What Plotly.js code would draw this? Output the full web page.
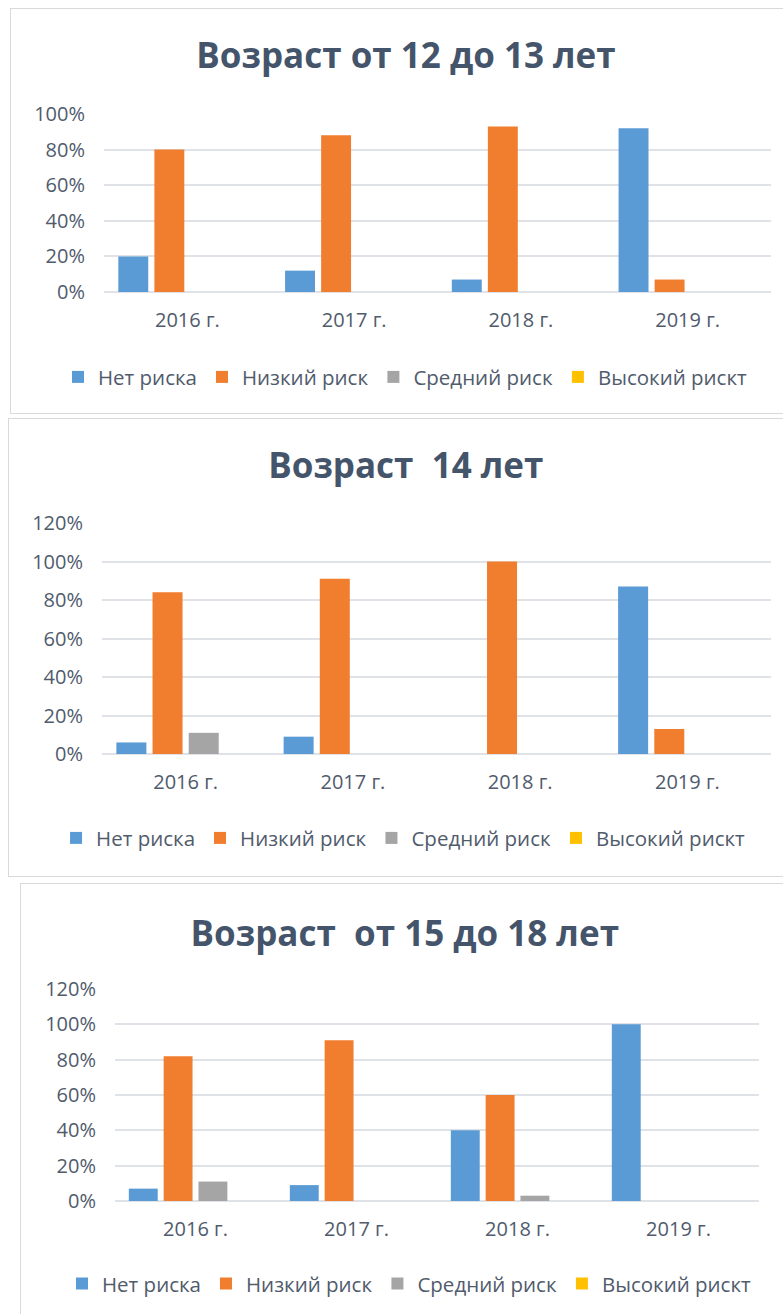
<!DOCTYPE html>
<html>
<head>
<meta charset="utf-8">
<script src="https://cdn.plot.ly/plotly-3.0.1.min.js"></script>
<style>
  html, body { margin: 0; padding: 0; background: #ffffff; width: 783px; height: 1314px; overflow: hidden; }
  .frame { position: absolute; border: 1.5px solid #d9d9d9; box-sizing: border-box; background: #fff; }
  #c1 { left: 10px; top: 8px; width: 790px; height: 406px; }
  #c2 { left: 8px; top: 418px; width: 790px; height: 459px; }
  #c3 { left: 20px; top: 883px; width: 780px; height: 450px; }
  .plot { position: absolute; left: 0; top: 0; }
</style>
</head>
<body>
<div class="frame" id="c1"><div class="plot" id="p1"></div></div>
<div class="frame" id="c2"><div class="plot" id="p2"></div></div>
<div class="frame" id="c3"><div class="plot" id="p3"></div></div>
<script>
// ---- data ----
const categories = ["2016 г.", "2017 г.", "2018 г.", "2019 г."];
const seriesNames = ["Нет риска", "Низкий риск", "Средний риск", "Высокий рискт"];
const seriesColors = ["#5b9bd5", "#f07e2e", "#a5a5a5", "#ffc000"];

const titles = ["Возраст от 12 до 13 лет", "Возраст  14 лет", "Возраст  от 15 до 18 лет"];

// chart 1: age 12-13
const age1213_none   = [0.20, 0.12, 0.07, 0.92];
const age1213_low    = [0.80, 0.88, 0.93, 0.07];
const age1213_medium = [0, 0, 0, 0];
const age1213_high   = [0, 0, 0, 0];

// chart 2: age 14
const age14_none   = [0.06, 0.09, 0, 0.87];
const age14_low    = [0.84, 0.91, 1.00, 0.13];
const age14_medium = [0.11, 0, 0, 0];
const age14_high   = [0, 0, 0, 0];

// chart 3: age 15-18
const age1518_none   = [0.07, 0.09, 0.40, 1.00];
const age1518_low    = [0.82, 0.91, 0.60, 0];
const age1518_medium = [0.11, 0, 0.03, 0];
const age1518_high   = [0, 0, 0, 0];

const yMax = [1.0, 1.2, 1.2];

const textColor = "#505b6c";
const fontFam = "'Open Sans', 'Noto Sans', sans-serif";

function makeTraces(vals) {
  return vals.map((v, i) => ({
    type: "bar",
    name: seriesNames[i],
    x: categories,
    y: v,
    marker: { color: seriesColors[i], line: { width: 0 } },
    hoverinfo: "none"
  }));
}

const configs = [
  { id: "p1", w: 773, h: 406, l: 93, r: 13, t: 105, b: 123, titleX: 0.511, titleY: 47, legX: -0.069, legY: -0.478,
    vals: [age1213_none, age1213_low, age1213_medium, age1213_high] },
  { id: "p2", w: 775, h: 459, l: 93, r: 13, t: 104, b: 124, titleX: 0.512, titleY: 47, legX: -0.0687, legY: -0.364,
    vals: [age14_none, age14_low, age14_medium, age14_high] },
  { id: "p3", w: 763, h: 450, l: 94, r: 25, t: 105, b: 133, titleX: 0.503, titleY: 50, legX: -0.0823, legY: -0.39,
    vals: [age1518_none, age1518_low, age1518_medium, age1518_high] }
];

configs.forEach((c, k) => {
  const layout = {
    width: c.w, height: c.h,
    margin: { l: c.l, r: c.r, t: c.t, b: c.b, pad: 0, autoexpand: false },
    paper_bgcolor: "rgba(0,0,0,0)",
    plot_bgcolor: "rgba(0,0,0,0)",
    font: { family: fontFam, color: textColor, size: 20 },
    title: {
      text: titles[k],
      font: { family: fontFam, size: 35, color: "#44546a", weight: "bold" },
      xref: "container", x: c.titleX, xanchor: "center",
      yref: "container", y: 1 - c.titleY / c.h, yanchor: "middle"
    },
    barmode: "group",
    bargap: 0.135,
    bargroupgap: 0.17,
    showlegend: true,
    legend: {
      orientation: "h",
      x: c.legX, xanchor: "left",
      y: c.legY, yanchor: "middle",
      font: { family: fontFam, size: 20.5, color: textColor },
      traceorder: "normal",
      bgcolor: "rgba(0,0,0,0)"
    },
    xaxis: {
      type: "category",
      showgrid: false,
      showline: false,
      zeroline: false,
      ticks: "",
      tickangle: 0,
      ticklabelstandoff: 14,
      tickfont: { family: fontFam, size: 20, color: textColor },
      fixedrange: true
    },
    yaxis: {
      range: [0, yMax[k]],
      dtick: 0.2,
      tick0: 0,
      tickformat: ".0%",
      showgrid: true,
      gridcolor: "#dfe2e7",
      gridwidth: 2,
      zeroline: true,
      zerolinecolor: "#dfe2e7",
      zerolinewidth: 2,
      showline: false,
      ticks: "",
      ticklabelstandoff: 18,
      tickfont: { family: fontFam, size: 20, color: textColor },
      fixedrange: true
    }
  };
  Plotly.newPlot(c.id, makeTraces(c.vals), layout, { displayModeBar: false, staticPlot: true });
});
</script>
</body>
</html>
